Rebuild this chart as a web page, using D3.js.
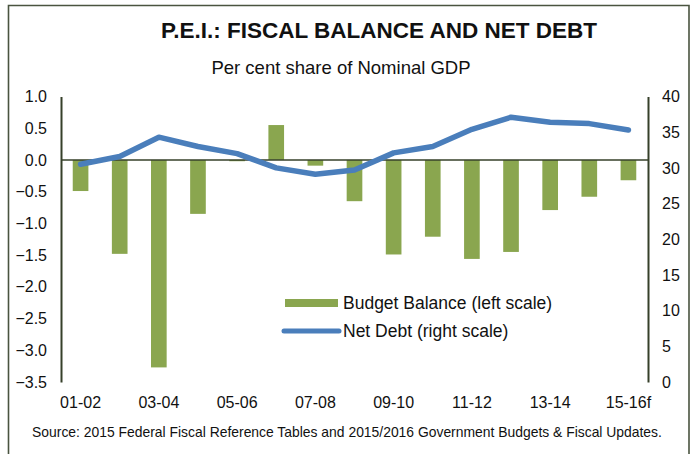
<!DOCTYPE html>
<html>
<head>
<meta charset="utf-8">
<script src="https://cdn.jsdelivr.net/npm/d3@7"></script>
<style>
  html, body { margin: 0; padding: 0; background: #fff; }
  svg { display: block; font-family: "Liberation Sans", Arial, sans-serif; }
</style>
</head>
<body>
<div id="chart"></div>
<script>
// Fiscal years, 2001-02 through the 2015-16 forecast
const years = ["01-02", "02-03", "03-04", "04-05", "05-06", "06-07", "07-08", "08-09",
               "09-10", "10-11", "11-12", "12-13", "13-14", "14-15", "15-16f"];
const yearLabels = ["01-02", "03-04", "05-06", "07-08", "09-10", "11-12", "13-14", "15-16f"];

// Budget balance, per cent of nominal GDP (left scale)
const budgetBalance = [-0.49, -1.48, -3.27, -0.85, -0.02, 0.55, -0.09, -0.65,
                       -1.49, -1.21, -1.56, -1.45, -0.79, -0.58, -0.32];
// Net debt, per cent of nominal GDP (right scale)
const netDebt = [30.5, 31.6, 34.3, 33.0, 32.0, 30.0, 29.1, 29.7,
                 32.1, 33.0, 35.4, 37.1, 36.4, 36.2, 35.3];

const leftTicks = [1.0, 0.5, 0.0, -0.5, -1.0, -1.5, -2.0, -2.5, -3.0, -3.5];
const rightTicks = [40, 35, 30, 25, 20, 15, 10, 5, 0];

const W = 694, H = 454;
const green = "#8aa64f", blue = "#4a7ebb", axisCol = "#36402a";

const svg = d3.select("#chart").append("svg")
  .attr("width", W).attr("height", H);

svg.append("rect").attr("width", W).attr("height", H).attr("fill", "#fff");

// outer frame
svg.append("path")
  .attr("d", "M8.5,460 V5.5 H689 V460")
  .attr("fill", "none").attr("stroke", "#4a5440").attr("stroke-width", 1.6);

const plot = { left: 61, right: 648, top: 96.5, bottom: 382 };

const x = d3.scaleBand().domain(years)
  .range([plot.left, plot.right])
  .paddingInner(0.6).paddingOuter(0.3);
const yL = d3.scaleLinear().domain([-3.5, 1.0]).range([plot.bottom, plot.top]);
const yR = d3.scaleLinear().domain([0, 40]).range([plot.bottom, plot.top]);

// titles
svg.append("text").attr("x", 379).attr("y", 38).attr("text-anchor", "middle")
  .attr("font-size", 22.5).attr("font-weight", "bold").attr("fill", "#111")
  .text("P.E.I.: FISCAL BALANCE AND NET DEBT");
svg.append("text").attr("x", 341).attr("y", 74).attr("text-anchor", "middle")
  .attr("font-size", 18.5).attr("fill", "#111")
  .text("Per cent share of Nominal GDP");

// bars
svg.append("g").selectAll("rect").data(years).join("rect")
  .attr("x", d => x(d))
  .attr("width", x.bandwidth())
  .attr("y", (d, i) => yL(Math.max(0, budgetBalance[i])))
  .attr("height", (d, i) => Math.abs(yL(budgetBalance[i]) - yL(0)))
  .attr("fill", green);

// left axis
const axL = svg.append("g").attr("transform", `translate(${plot.left},0)`)
  .call(d3.axisLeft(yL).tickValues(leftTicks).tickSize(0).tickPadding(14)
    .tickFormat(d3.format(".1f")));
axL.select(".domain").attr("stroke", axisCol).attr("stroke-width", 2);
axL.selectAll("text").attr("font-size", 16).attr("fill", "#111")
  .attr("font-family", "Liberation Sans, Arial, sans-serif");

// right axis
const axR = svg.append("g").attr("transform", `translate(${plot.right},0)`)
  .call(d3.axisRight(yR).tickValues(rightTicks).tickSize(0).tickPadding(14));
axR.select(".domain").attr("stroke", axisCol).attr("stroke-width", 2);
axR.selectAll("text").attr("font-size", 16).attr("fill", "#111")
  .attr("font-family", "Liberation Sans, Arial, sans-serif");

// category axis at the bottom, labels only
const axB = svg.append("g").attr("transform", `translate(0,${plot.bottom})`)
  .call(d3.axisBottom(x).tickValues(years.filter((d, i) => i % 2 === 0))
    .tickSize(0).tickPadding(15).tickFormat((d, i) => yearLabels[i]));
axB.select(".domain").remove();
axB.selectAll("text").attr("font-size", 16).attr("fill", "#111")
  .attr("font-family", "Liberation Sans, Arial, sans-serif");

// zero line
svg.append("line")
  .attr("x1", plot.left).attr("x2", plot.right)
  .attr("y1", yL(0)).attr("y2", yL(0))
  .attr("stroke", axisCol).attr("stroke-width", 1.6);

// net debt line
svg.append("path").datum(netDebt)
  .attr("fill", "none").attr("stroke", blue).attr("stroke-width", 5.5)
  .attr("stroke-linejoin", "round").attr("stroke-linecap", "round")
  .attr("d", d3.line()
    .x((d, i) => x(years[i]) + x.bandwidth() / 2)
    .y(d => yR(d)));

// legend
const lg = svg.append("g");
lg.append("rect").attr("x", 285).attr("y", 299).attr("width", 53).attr("height", 8)
  .attr("fill", green);
lg.append("text").attr("x", 343).attr("y", 309).attr("font-size", 17.5).attr("fill", "#111")
  .text("Budget Balance (left scale)");
lg.append("line").attr("x1", 284).attr("x2", 339).attr("y1", 331).attr("y2", 331)
  .attr("stroke", blue).attr("stroke-width", 5).attr("stroke-linecap", "round");
lg.append("text").attr("x", 343).attr("y", 337).attr("font-size", 17.5).attr("fill", "#111")
  .text("Net Debt (right scale)");

// source note
svg.append("text").attr("x", 347).attr("y", 437).attr("text-anchor", "middle")
  .attr("font-size", 13.9).attr("fill", "#111")
  .text("Source: 2015 Federal Fiscal Reference Tables and 2015/2016 Government Budgets & Fiscal Updates.");
</script>
</body>
</html>
